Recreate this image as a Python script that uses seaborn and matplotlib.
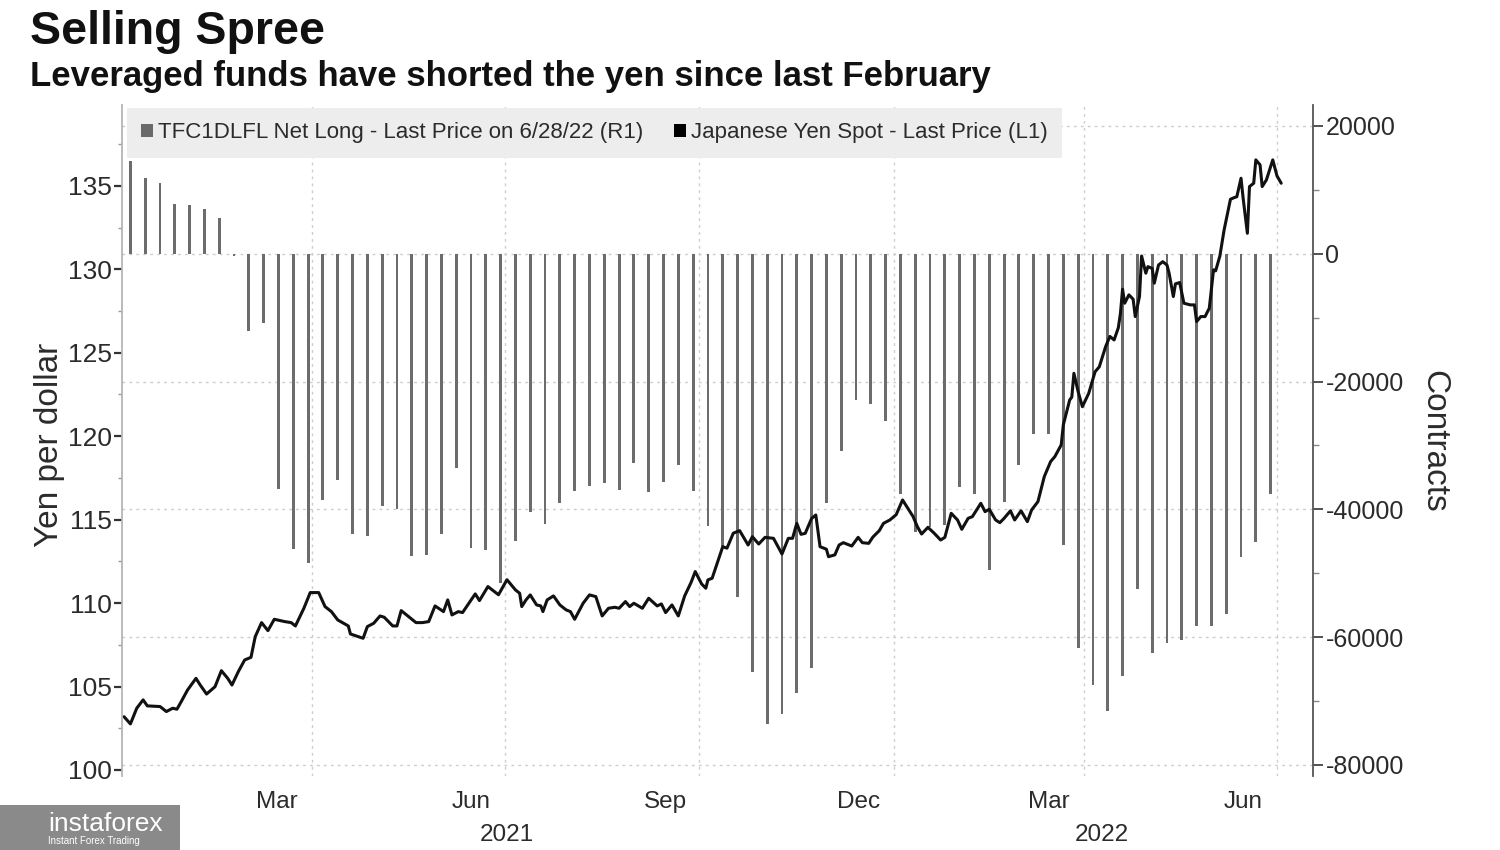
import numpy as np
import pandas as pd
import matplotlib
matplotlib.use("Agg")
import matplotlib.pyplot as plt
import matplotlib.dates as mdates
import matplotlib.transforms as mtransforms
from matplotlib.patches import Patch, Rectangle
from matplotlib.ticker import FixedLocator, MultipleLocator, FuncFormatter
import seaborn as sns

# ---------------- data ----------------
title = "Selling Spree"
subtitle = "Leveraged funds have shorted the yen since last February"
bar_label = "TFC1DLFL Net Long - Last Price on 6/28/22 (R1)"
line_label = "Japanese Yen Spot - Last Price (L1)"

# weekly CFTC leveraged-funds net position (contracts), Tuesdays from 2021-01-05
net_long_start = "2021-01-05"
net_long = [14500, 11900, 11150, 7760, 7600, 7080, 5570, -400, -12030, -10900,
            -36880, -46150, -48330, -38490, -35470, -43800, -44220, -39430, -40000, -47340,
            -47190, -43800, -33490, -45990, -46300, -51560, -44950, -40420, -42240, -39010,
            -37100, -36300, -35880, -36900, -32760, -37290, -35700, -33020, -37100, -42660,
            -45800, -53700, -65420, -73590, -72080, -68800, -64890, -39010, -30890, -22860,
            -23490, -26090, -37550, -43540, -42760, -42500, -36510, -37550, -49530, -38850,
            -33120, -28280, -28280, -45520, -61770, -67500, -71510, -66040, -52400, -62550,
            -60890, -60470, -58230, -58230, -56410, -47450, -45100, -37550]

# USD/JPY spot: day offset from 2021-01-01 and price
yen_start = "2021-01-01"
yen_day = [1, 4, 7, 10, 12, 18, 21, 24, 26, 28,
           31, 35, 37, 40, 44, 47, 50, 52, 55, 58,
           61, 63, 66, 69, 72, 77, 80, 82, 86, 89,
           93, 96, 99, 102, 107, 108, 114, 116, 119, 122,
           124, 128, 130, 132, 137, 139, 142, 145, 148, 152,
           154, 156, 159, 161, 164, 167, 169, 173, 178, 182,
           184, 186, 188, 189, 191, 193, 196, 198, 199, 201,
           204, 207, 210, 212, 214, 218, 221, 224, 227, 230,
           233, 235, 238, 240, 242, 246, 249, 253, 255, 257,
           260, 263, 266, 269, 271, 274, 276, 277, 279, 284,
           286, 289, 292, 296, 298, 301, 304, 308, 312, 315,
           317, 319, 321, 323, 326, 328, 330, 333, 334, 337,
           339, 341, 345, 348, 350, 353, 355, 358, 360, 363,
           366, 369, 371, 374, 376, 378, 381, 384, 387, 389,
           392, 395, 397, 400, 402, 406, 408, 410, 413, 415,
           417, 420, 422, 425, 428, 430, 433, 436, 439, 441,
           444, 445, 448, 449, 450, 452, 454, 457, 460, 462,
           465, 467, 469, 471, 472, 473, 474, 476, 478, 479,
           481, 482, 484, 485, 487, 488, 490, 492, 494, 495,
           497, 498, 500, 502, 505, 507, 508, 510, 512, 514,
           516, 517, 519, 521, 524, 526, 527, 529, 530, 532,
           533, 535, 536, 538, 539, 541, 544, 546, 548]
yen_spot = [103.19, 102.76, 103.70, 104.20, 103.84, 103.80, 103.50, 103.70, 103.64, 104.09,
            104.79, 105.49, 105.09, 104.55, 104.99, 105.95, 105.49, 105.09, 105.89, 106.59,
            106.75, 107.99, 108.83, 108.35, 109.03, 108.89, 108.83, 108.63, 109.69, 110.63,
            110.63, 109.79, 109.49, 108.99, 108.63, 108.15, 107.89, 108.59, 108.79, 109.23,
            109.15, 108.63, 108.63, 109.55, 109.03, 108.83, 108.83, 108.89, 109.83, 109.49,
            110.19, 109.29, 109.49, 109.43, 109.99, 110.55, 110.15, 110.99, 110.50, 111.40,
            111.09, 110.79, 110.59, 109.79, 110.19, 110.49, 109.89, 109.83, 109.49, 110.19,
            110.43, 109.89, 109.59, 109.49, 109.03, 109.99, 110.49, 110.39, 109.23, 109.69,
            109.75, 109.69, 110.09, 109.79, 109.99, 109.69, 110.29, 109.83, 109.95, 109.43,
            109.89, 109.23, 110.43, 111.23, 111.89, 111.15, 110.89, 111.39, 111.49, 113.38,
            113.29, 114.19, 114.34, 113.48, 113.98, 113.54, 113.94, 113.88, 112.94, 113.88,
            113.88, 114.78, 114.12, 114.18, 115.07, 115.28, 113.38, 113.23, 112.78, 112.89,
            113.48, 113.62, 113.42, 113.94, 113.62, 113.58, 113.96, 114.34, 114.78, 114.98,
            115.30, 116.18, 115.78, 115.18, 114.58, 114.14, 114.54, 114.18, 113.78, 113.94,
            115.38, 114.98, 114.42, 115.08, 115.18, 115.98, 115.48, 115.62, 114.98, 114.82,
            115.08, 115.53, 114.98, 115.53, 114.88, 115.58, 116.08, 117.58, 118.48, 118.78,
            119.48, 120.68, 122.17, 122.34, 123.77, 122.67, 121.77, 122.57, 123.86, 124.16,
            125.37, 125.98, 125.77, 126.50, 127.37, 128.81, 127.97, 128.47, 128.21, 127.17,
            128.37, 130.80, 129.77, 130.16, 130.06, 129.17, 130.26, 130.46, 130.26, 129.77,
            128.37, 129.13, 129.21, 127.97, 127.87, 127.87, 126.87, 127.17, 127.17, 127.67,
            129.97, 129.91, 130.80, 132.36, 134.20, 134.31, 134.35, 135.46, 134.26, 132.16,
            134.96, 135.16, 136.56, 136.26, 134.96, 135.36, 136.56, 135.60, 135.16]

left_ticks = [100, 105, 110, 115, 120, 125, 130, 135]
right_ticks = [-80000, -60000, -40000, -20000, 0, 20000]
month_label_dates = ["2021-03-15", "2021-06-15", "2021-09-15", "2021-12-15", "2022-03-15", "2022-06-15"]
month_labels = ["Mar", "Jun", "Sep", "Dec", "Mar", "Jun"]
quarter_dates = ["2021-04-01", "2021-07-01", "2021-10-01", "2022-01-01", "2022-04-01", "2022-07-01"]
year_label_dates = ["2021-07-02", "2022-04-09"]
year_labels = ["2021", "2022"]

# ---------------- frames ----------------
pos_df = pd.DataFrame({
    "date": pd.date_range(net_long_start, periods=len(net_long), freq="7D"),
    "contracts": net_long,
})
yen_df = pd.DataFrame({
    "date": pd.Timestamp(yen_start) + pd.to_timedelta(yen_day, unit="D"),
    "yen": yen_spot,
})

# ---------------- style ----------------
sns.set_theme(style="white")
plt.rcParams["font.family"] = ["Liberation Sans", "DejaVu Sans"]
plt.rcParams["axes.unicode_minus"] = False

TXT = "#2b2b2b"
fig = plt.figure(figsize=(15, 8.5), dpi=100)
ax = fig.add_axes([0.0813, 0.0871, 0.794, 0.7894])   # contracts (right)
ax_l = ax.twinx()                                    # yen (left), drawn on top

ax.yaxis.tick_right()
ax.yaxis.set_label_position("right")
ax_l.yaxis.tick_left()
ax_l.yaxis.set_label_position("left")

# bars
ax.bar(pos_df["date"], pos_df["contracts"], width=1.35, color="#6c6c6c",
       edgecolor="none", linewidth=0, zorder=2)

# line
sns.lineplot(data=yen_df, x="date", y="yen", ax=ax_l, color="#111111",
             linewidth=2.2, estimator=None, sort=True)

# limits
ax.set_xlim(pd.Timestamp("2021-01-01"), pd.Timestamp("2022-07-18"))
ax.set_ylim(-81720, 23290)
ax_l.set_ylim(99.64, 139.85)

# right axis ticks
ax.yaxis.set_major_locator(FixedLocator(right_ticks))
ax.yaxis.set_minor_locator(MultipleLocator(10000))
ax.yaxis.set_major_formatter(FuncFormatter(lambda v, p: f"{int(v)}"))
ax.tick_params(axis="y", which="major", right=True, left=False, labelright=True,
               labelleft=False, length=7, width=1.3, color="#444444",
               labelsize=18, labelcolor=TXT, pad=2)
ax.tick_params(axis="y", which="minor", right=True, left=False, length=4,
               width=1.0, color="#888888")

# left axis ticks
ax_l.yaxis.set_major_locator(FixedLocator(left_ticks))
ax_l.yaxis.set_minor_locator(MultipleLocator(2.5))
ax_l.tick_params(axis="y", which="major", left=True, right=False, labelleft=True,
                 labelright=False, length=6, width=1.6, color="#333333",
                 labelsize=19, labelcolor=TXT, pad=1)
ax_l.tick_params(axis="y", which="minor", left=True, right=False, length=3,
                 width=1.0, color="#999999")
ax_l.set_xlabel("")

# x axis
ax.set_xticks(mdates.date2num(pd.to_datetime(month_label_dates)))
ax.set_xticklabels(month_labels)
ax.xaxis.set_minor_locator(FixedLocator(mdates.date2num(pd.to_datetime(quarter_dates))))
ax.tick_params(axis="x", which="major", length=0, labelsize=17.5, labelcolor=TXT, pad=11)
ax.tick_params(axis="x", which="minor", length=0)
ax.set_xlabel("")

# grid
grid_kw = dict(color="#cdcdcd", linestyle=(0, (2, 3)), linewidth=1.0)
ax.grid(True, axis="y", which="major", **grid_kw)
ax.grid(True, axis="x", which="minor", **grid_kw)
ax.grid(False, axis="x", which="major")
ax.grid(False, axis="y", which="minor")
ax.set_axisbelow(True)

# spines
for a in (ax, ax_l):
    for s in ("top", "bottom"):
        a.spines[s].set_visible(False)
ax.spines["left"].set_visible(False)
ax.spines["right"].set_visible(True)
ax.spines["right"].set_color("#555555")
ax.spines["right"].set_linewidth(1.3)
ax_l.spines["right"].set_visible(False)
ax_l.spines["left"].set_visible(True)
ax_l.spines["left"].set_color("#b5b5b5")
ax_l.spines["left"].set_linewidth(1.3)

# axis titles
ax_l.set_ylabel("Yen per dollar", fontsize=24, color=TXT)
ax_l.yaxis.set_label_coords(-0.048, 0.493)
ax.set_ylabel("Contracts", fontsize=24, color=TXT, rotation=270, va="bottom")
ax.yaxis.set_label_coords(1.088, 0.498)

# year labels
trans = mtransforms.blended_transform_factory(ax.transData, ax.transAxes)
for d, lab in zip(year_label_dates, year_labels):
    ax.text(mdates.date2num(pd.Timestamp(d)), -0.071, lab, transform=trans,
            ha="center", va="top", fontsize=17.5, color=TXT)

# legend
handles = [Patch(facecolor="#6a6a6a", edgecolor="none"),
           Patch(facecolor="#000000", edgecolor="none")]
leg = ax_l.legend(handles, [bar_label, line_label], loc="upper left",
                  bbox_to_anchor=(0.004, 0.996), ncol=2, fontsize=16,
                  frameon=True, facecolor="#ededed", edgecolor="none",
                  framealpha=1.0, handlelength=0.55, handleheight=0.55,
                  handletextpad=0.2, columnspacing=1.4, borderpad=0.65,
                  borderaxespad=0.0)
leg.get_frame().set_boxstyle("square", pad=0.0)
for t in leg.get_texts():
    t.set_color(TXT)

# titles
fig.text(0.02, 0.988, title, fontsize=33.5, fontweight="bold", color="#111111",
         ha="left", va="top")
fig.text(0.02, 0.929, subtitle, fontsize=25, fontweight="bold", color="#111111",
         ha="left", va="top")

# watermark
fig.patches.append(Rectangle((0.0, 0.0), 0.12, 0.053, transform=fig.transFigure,
                             facecolor="#8a8a8a", edgecolor="none", zorder=5))
fig.text(0.032, 0.031, "instaforex", fontsize=19, color="white", ha="left",
         va="center", zorder=6)
fig.text(0.032, 0.010, "Instant Forex Trading", fontsize=7, color="white",
         ha="left", va="center", zorder=6)

fig.savefig("out.png", dpi=100)
